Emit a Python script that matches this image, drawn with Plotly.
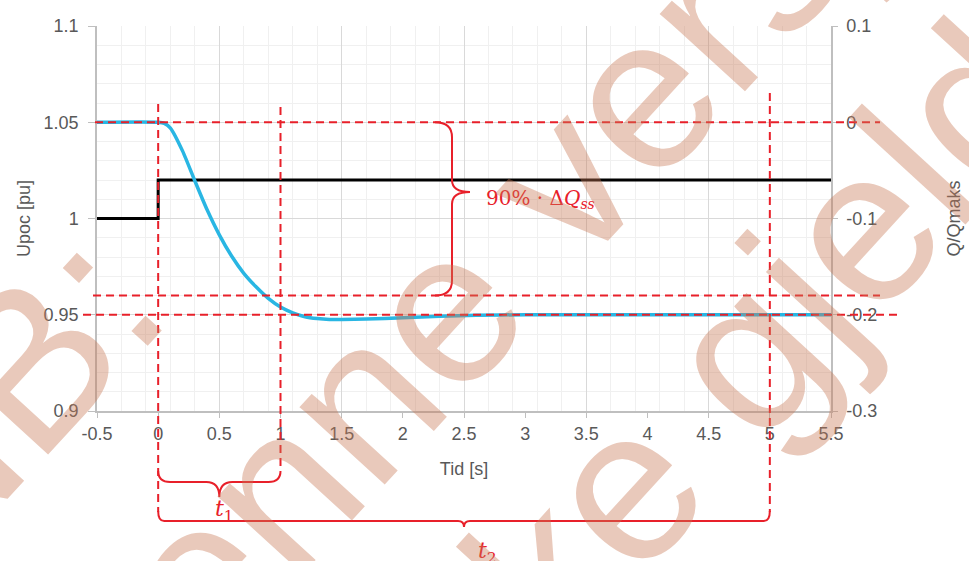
import numpy as np
import plotly.graph_objects as go

# ---------------- data ----------------
u_time = [-0.5, 0.0, 0.0, 5.5]
u_poc = [1.0, 1.0, 1.02, 1.02]

q_time = [-0.5, 0.0, 0.05, 0.1, 0.2, 0.3, 0.4, 0.5, 0.6, 0.7, 0.8, 0.9, 1.0, 1.1, 1.2,
          1.3, 1.4, 1.5, 1.7, 2.0, 2.3, 2.6, 3.0, 3.5, 4.0, 4.5, 5.0, 5.5]
q_val = [0.0, 0.0, -0.0012, -0.006, -0.030, -0.061, -0.091, -0.117, -0.139, -0.157, -0.171,
         -0.183, -0.192, -0.198, -0.202, -0.204, -0.205, -0.205, -0.2045, -0.203,
         -0.2015, -0.2005, -0.200, -0.200, -0.200, -0.200, -0.200, -0.200]

x_ticks = [-0.5, 0, 0.5, 1, 1.5, 2, 2.5, 3, 3.5, 4, 4.5, 5, 5.5]
x_ticktext = ["-0.5", "0", "0.5", "1", "1.5", "2", "2.5", "3", "3.5", "4", "4.5", "5", "5.5"]
y_ticks = [0.9, 0.95, 1.0, 1.05, 1.1]
y_ticktext = ["0.9", "0.95", "1", "1.05", "1.1"]
y2_ticks = [-0.3, -0.2, -0.1, 0.0, 0.1]
y2_ticktext = ["-0.3", "-0.2", "-0.1", "0", "0.1"]

# guide values
t_marks = [0.0, 1.0, 5.0]          # t=0, t1 end, t2 end
q_ss = -0.2                        # steady-state Q
q_90 = 0.9 * q_ss                  # 90 % level

# ---------------- layout geometry ----------------
W, H = 969, 561
ML, MR, MT, MB = 97, 138, 26, 150
PW, PH = W - ML - MR, H - MT - MB
XR = [-0.5, 5.5]
Y2R = [-0.3, 0.1]

def xpx_to_data(px):
    return XR[0] + (px - ML) / PW * (XR[1] - XR[0])

def xpx_to_paper(px):
    return (px - ML) / PW

def ypx_to_paper(py):
    return (MT + PH - py) / PH

def ypx_to_q(py):
    return Y2R[1] - (py - MT) / PH * (Y2R[1] - Y2R[0])

def dpx_x(d):  # pixel length -> x data length
    return d / PW * (XR[1] - XR[0])

def dpx_q(d):  # pixel length -> y2 data length
    return d / PH * (Y2R[1] - Y2R[0])

RED = "#E8202A"
GRAY_TXT = "#595959"
AX = "#BFBFBF"
FONT = "Liberation Sans, Arial, sans-serif"

fig = go.Figure()
fig.add_trace(go.Scatter(x=u_time, y=u_poc, mode="lines",
                         line=dict(color="black", width=3),
                         xaxis="x", yaxis="y", hoverinfo="skip"))
fig.add_trace(go.Scatter(x=q_time, y=q_val, mode="lines",
                         line=dict(color="#29B6E3", width=3.5, shape="spline", smoothing=0.6),
                         xaxis="x2", yaxis="y2", hoverinfo="skip"))

major_x = list(np.arange(-0.5, 5.51, 1.0))
minor_x = [v for v in np.round(np.arange(-0.5, 5.51, 0.2), 3)
           if min(abs(v - m) for m in major_x) > 1e-6]

shapes = []
dash = "8px,5px"
# horizontal dashed guides
for qv, x0px, x1px in [(0.0, 95, 880), (q_90, 93, 880), (q_ss, 83, 898)]:
    shapes.append(dict(type="line", xref="paper", yref="y2",
                       x0=xpx_to_paper(x0px), x1=xpx_to_paper(x1px), y0=qv, y1=qv,
                       line=dict(color=RED, width=2, dash=dash)))
# vertical dashed guides
for tv, y0px, y1px in [(t_marks[0], 104, 512), (t_marks[1], 107, 471), (t_marks[2], 93, 512)]:
    shapes.append(dict(type="line", xref="x", yref="paper",
                       x0=tv, x1=tv, y0=ypx_to_paper(y0px), y1=ypx_to_paper(y1px),
                       line=dict(color=RED, width=2, dash=dash)))

def hbrace(xa, xb, y_end_px, y_line_px, y_tip_px, r_px, tip_r_px):
    ye, yl, yt = ypx_to_paper(y_end_px), ypx_to_paper(y_line_px), ypx_to_paper(y_tip_px)
    r = dpx_x(r_px); tr = dpx_x(tip_r_px)
    xm = (xa + xb) / 2
    p = (f"M {xa},{ye} Q {xa},{yl} {xa + r},{yl} L {xm - tr},{yl} "
         f"Q {xm},{yl} {xm},{yt} Q {xm},{yl} {xm + tr},{yl} "
         f"L {xb - r},{yl} Q {xb},{yl} {xb},{ye}")
    return dict(type="path", xref="x", yref="paper", path=p,
                line=dict(color=RED, width=2))

shapes.append(hbrace(t_marks[0], t_marks[1], 471, 482, 497, 12, 13))
shapes.append(hbrace(t_marks[0], t_marks[2], 511, 521, 527, 6, 6))

# vertical brace for 90 % dQss
xe, xl, xt = xpx_to_data(435), xpx_to_data(452), xpx_to_data(470)
q_tip = ypx_to_q(192)
ry, try_ = dpx_q(15), dpx_q(12)
p = (f"M {xe},{0.0} Q {xl},{0.0} {xl},{-ry} L {xl},{q_tip + try_} "
     f"Q {xl},{q_tip} {xt},{q_tip} Q {xl},{q_tip} {xl},{q_tip - try_} "
     f"L {xl},{q_90 + ry} Q {xl},{q_90} {xe},{q_90}")
shapes.append(dict(type="path", xref="x", yref="y2", path=p, line=dict(color=RED, width=2)))

annotations = [
    dict(text="90% · Δ<i>Q</i><sub><i>ss</i></sub>", xref="x", yref="y2",
         x=xpx_to_data(484), y=ypx_to_q(199),
         xanchor="left", yanchor="middle", showarrow=False,
         font=dict(family="DejaVu Serif, serif", size=20, color=RED)),
    dict(text="<i>t</i><sub>1</sub>", xref="x", yref="paper",
         x=xpx_to_data(224), y=ypx_to_paper(510), xanchor="center", yanchor="middle",
         showarrow=False, font=dict(family="DejaVu Serif, serif", size=22, color=RED)),
    dict(text="<i>t</i><sub>2</sub>", xref="x", yref="paper",
         x=xpx_to_data(487), y=ypx_to_paper(552), xanchor="center", yanchor="middle",
         showarrow=False, font=dict(family="DejaVu Serif, serif", size=22, color=RED)),
]

# watermark
wm_lines = ["NB:", "denne versjonen", "er ikke gjeldende"]
wm_pos = [(-4, 399), (618, 119), (785, 309)]
for txt, (cx, cy) in zip(wm_lines, wm_pos):
    annotations.append(dict(text=txt, xref="paper", yref="paper",
                            x=xpx_to_paper(cx), y=ypx_to_paper(cy),
                            xanchor="center", yanchor="middle", showarrow=False,
                            textangle=-47.5,
                            font=dict(family=FONT, size=218, color="rgba(200,120,85,0.40)")))

tickfont = dict(family=FONT, size=18, color=GRAY_TXT)
fig.update_layout(
    width=W, height=H, margin=dict(l=ML, r=MR, t=MT, b=MB, autoexpand=False),
    paper_bgcolor="white", plot_bgcolor="white", showlegend=False,
    xaxis=dict(range=XR, tickmode="array", tickvals=x_ticks, ticktext=x_ticktext,
               automargin=False,
               showgrid=False, zeroline=False, showline=True, linecolor=AX, linewidth=1.5,
               ticks="outside", ticklen=5, tickcolor=AX, tickfont=tickfont,
               ticklabelstandoff=1,
               minor=dict(tickmode="array", tickvals=minor_x, showgrid=True,
                          gridcolor="#F0F0F0", gridwidth=1.2, ticks=""),
               title=dict(text="Tid [s]", font=dict(family=FONT, size=18, color=GRAY_TXT),
                          standoff=19)),
    xaxis2=dict(range=XR, overlaying="x", anchor="y2", tickmode="array", tickvals=major_x,
                automargin=False,
                showticklabels=False, ticks="", showgrid=True, gridcolor="#D9D9D9",
                gridwidth=1.2, zeroline=False, showline=False),
    yaxis=dict(range=[0.9, 1.1], tickmode="array", tickvals=y_ticks, ticktext=y_ticktext,
               automargin=False,
               showgrid=True, gridcolor="#D9D9D9", gridwidth=1.2, zeroline=False,
               showline=True, linecolor=AX, linewidth=1.5, ticks="outside", ticklen=7,
               tickcolor=AX, tickfont=tickfont, ticklabelstandoff=6,
               minor=dict(dtick=0.01, tick0=0.9, showgrid=True, gridcolor="#F0F0F0",
                          gridwidth=1.2, ticks=""),
               title=dict(text="Upoc [pu]", font=dict(family=FONT, size=18, color=GRAY_TXT),
                          standoff=8)),
    yaxis2=dict(range=Y2R, overlaying="y", side="right", anchor="x", tickmode="array",
                automargin=False,
                tickvals=y2_ticks, ticktext=y2_ticktext, showgrid=False, zeroline=False,
                showline=True, linecolor=AX, linewidth=1.5, ticks="outside", ticklen=5,
                tickcolor=AX, tickfont=tickfont, ticklabelstandoff=5,
                title=dict(text="Q/Qmaks", font=dict(family=FONT, size=18, color=GRAY_TXT),
                           standoff=71)),
    shapes=shapes, annotations=annotations,
)

fig.write_html("out.html", config={"displayModeBar": False},
               post_script="document.body.style.margin='0';")
